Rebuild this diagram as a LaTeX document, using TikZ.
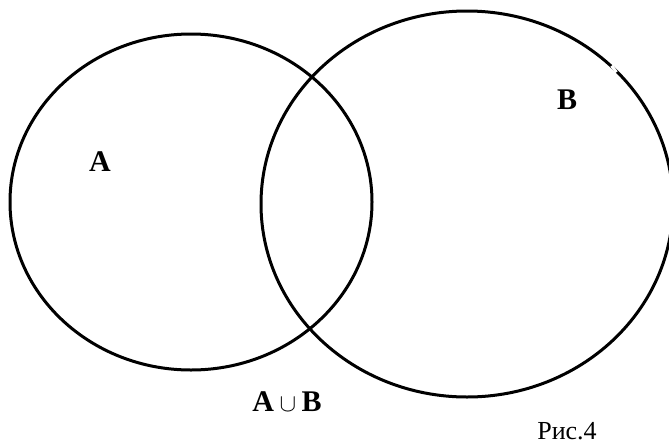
\documentclass[tikz,border=0pt]{standalone}
\usepackage{fontspec}
\setmainfont{Liberation Serif}
\begin{document}
\begin{tikzpicture}[x=1pt, y=-1pt, line width=3pt, line join=round, line cap=round]
	\useasboundingbox (0,0) rectangle (669,445);
	\tikzset{setlabel/.style={font=\fontsize{30}{30}\selectfont\bfseries}}
	\draw (191,202) ellipse [x radius=181, y radius=168];
	\draw (467,204) ellipse [x radius=206, y radius=193];
	\fill[white,rotate around={37:(614,69)}] (612.5,65) rectangle (615.5,73);
	\node[setlabel] (lblA) at (100,162) {A};
	\node[setlabel] (lblB) at (567,100) {B};
	\node[setlabel] (lblAB) at (287,402) {$\textbf{A}\cup\textbf{B}$};
	\node[font=\fontsize{26}{26}\selectfont, inner sep=1pt] (caption) at (567,431) {Рис.4};
\end{tikzpicture}
\end{document}
